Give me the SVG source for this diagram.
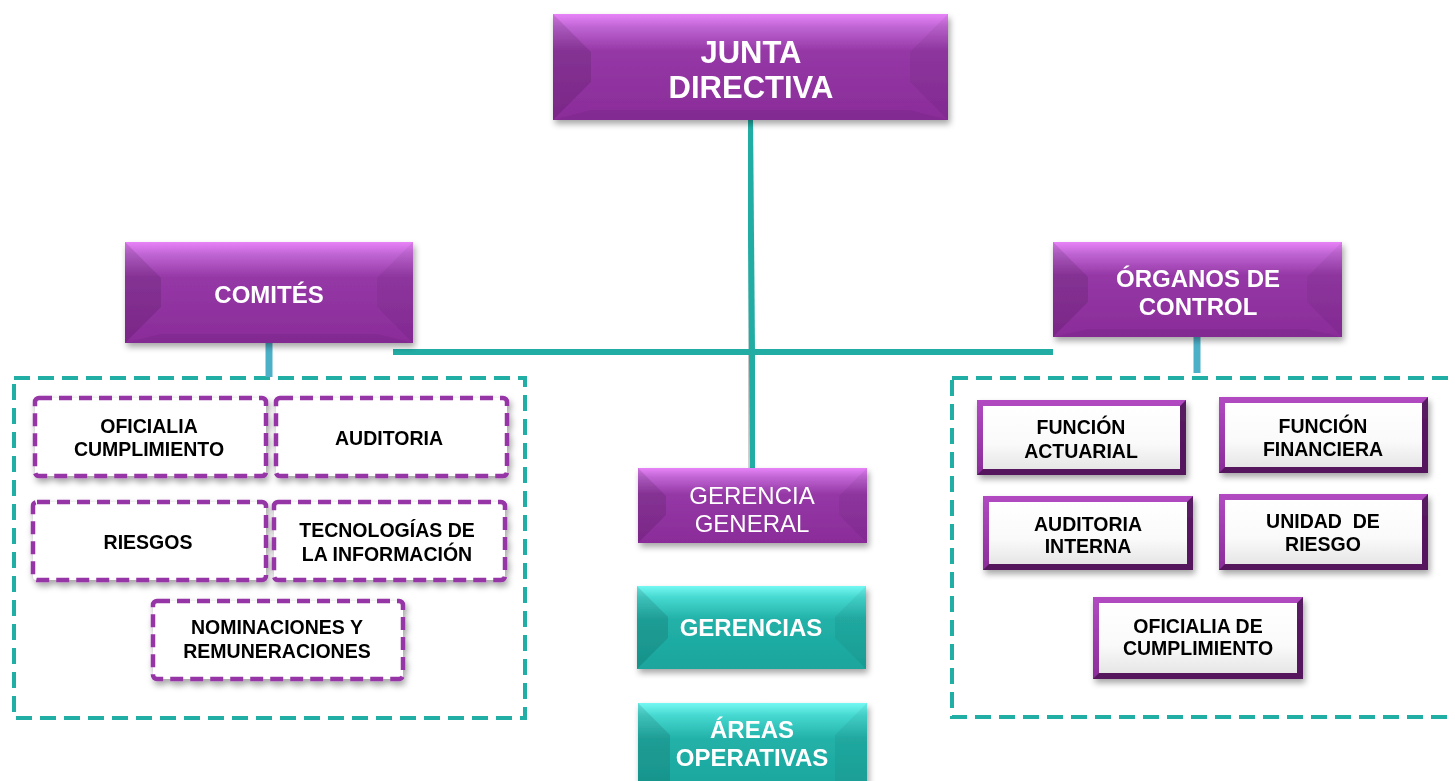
<svg xmlns="http://www.w3.org/2000/svg" width="1455" height="781" viewBox="0 0 1455 781">
<defs>
<linearGradient id="pg" x1="0" y1="0" x2="0" y2="1">
<stop offset="0" stop-color="#E883F8"/>
<stop offset="0.12" stop-color="#C065D4"/>
<stop offset="0.35" stop-color="#9538A6"/>
<stop offset="1" stop-color="#8A2C99"/>
</linearGradient>
<linearGradient id="tg" x1="0" y1="0" x2="0" y2="1">
<stop offset="0" stop-color="#74F8F3"/>
<stop offset="0.14" stop-color="#45D8D0"/>
<stop offset="0.4" stop-color="#22B1A8"/>
<stop offset="1" stop-color="#1AA59C"/>
</linearGradient>
<linearGradient id="wg" x1="0" y1="0" x2="0" y2="1">
<stop offset="0" stop-color="#FFFFFF"/>
<stop offset="0.6" stop-color="#FAFAFA"/>
<stop offset="1" stop-color="#E6E6E6"/>
</linearGradient>
<linearGradient id="fg" x1="0" y1="0" x2="0" y2="1">
<stop offset="0" stop-color="#B24AC2"/>
<stop offset="1" stop-color="#8A2C99"/>
</linearGradient>
<filter id="sh" x="-10%" y="-10%" width="125%" height="135%">
<feDropShadow dx="2" dy="4" stdDeviation="3" flood-color="#000" flood-opacity="0.35"/>
</filter>
<filter id="lsh" x="-50%" y="-5%" width="200%" height="110%">
<feDropShadow dx="-2" dy="2" stdDeviation="2" flood-color="#000" flood-opacity="0.3"/>
</filter>
<style>
.wt{font-family:"Liberation Sans",Arial,sans-serif;fill:#FFFFFF;text-anchor:middle;font-weight:bold}
.wr{font-family:"Liberation Sans",Arial,sans-serif;fill:#FFFFFF;text-anchor:middle;font-weight:normal}
.bt{font-family:"Liberation Sans",Arial,sans-serif;fill:#000000;text-anchor:middle;font-weight:bold;font-size:19.5px}
.dk{fill:#000;opacity:0.11}
.dk2{fill:#000;opacity:0.05}
.pd{fill:#FFFFFF;stroke:#9634A6;stroke-width:4.5;stroke-dasharray:13 7}
.td{fill:none;stroke:#21AFA5;stroke-width:4;stroke-dasharray:16 8}
.edge{fill:#4A1352;opacity:0.85}
.conn{stroke:#22ADA4;stroke-width:6;fill:none}
.stub{stroke:#4CB0C9;stroke-width:7;fill:none}
</style>
</defs>

<g id="containers">
<rect class="td" x="14" y="378" width="511" height="340"/>
<rect class="td" x="952" y="378" width="510" height="339"/>
</g>

<g id="connectors">
<line class="conn" x1="750" y1="120" x2="753" y2="468" filter="url(#lsh)"/>
<line class="conn" x1="393" y1="352" x2="1053" y2="352"/>
<line class="stub" x1="269" y1="343" x2="269" y2="377"/>
<line class="stub" x1="1197" y1="337" x2="1197" y2="373"/>
</g>

<g id="junta" filter="url(#sh)">
<rect x="553" y="14" width="395" height="106" fill="url(#pg)"/>
<polygon class="dk" points="553,14 591,52 591,82 553,120"/>
<polygon class="dk2" points="948,14 910,52 910,82 948,120"/>
<polygon class="dk2" points="553,120 591,110 910,110 948,120"/>
<text class="wt" font-size="31" x="751" y="63">JUNTA</text>
<text class="wt" font-size="31" x="751" y="98">DIRECTIVA</text>
</g>

<g id="comites" filter="url(#sh)">
<rect x="125" y="242" width="288" height="101" fill="url(#pg)"/>
<polygon class="dk" points="125,242 161,278 161,307 125,343"/>
<polygon class="dk2" points="413,242 377,278 377,307 413,343"/>
<polygon class="dk2" points="125,343 161,334 377,334 413,343"/>
<text class="wt" font-size="24" x="269" y="303">COMITÉS</text>
</g>

<g id="organos" filter="url(#sh)">
<rect x="1053" y="242" width="289" height="95" fill="url(#pg)"/>
<polygon class="dk" points="1053,242 1088,277 1088,302 1053,337"/>
<polygon class="dk2" points="1342,242 1307,277 1307,302 1342,337"/>
<polygon class="dk2" points="1053,337 1088,329 1307,329 1342,337"/>
<text class="wt" font-size="24" x="1198" y="287">ÓRGANOS DE</text>
<text class="wt" font-size="24" x="1198" y="315">CONTROL</text>
</g>

<g id="gerencia-general" filter="url(#sh)">
<rect x="638" y="468" width="229" height="75" fill="url(#pg)"/>
<polygon class="dk" points="638,468 666,496 666,515 638,543"/>
<polygon class="dk2" points="867,468 839,496 839,515 867,543"/>
<text class="wr" font-size="24" x="752" y="504">GERENCIA</text>
<text class="wr" font-size="24" x="752" y="532">GENERAL</text>
</g>

<g id="gerencias" filter="url(#sh)">
<rect x="637" y="586" width="229" height="83" fill="url(#tg)"/>
<polygon class="dk" points="637,586 668,617 668,638 637,669"/>
<polygon class="dk2" points="866,586 835,617 835,638 866,669"/>
<text class="wt" font-size="24" x="751" y="636">GERENCIAS</text>
</g>

<g id="areas-operativas" filter="url(#sh)">
<rect x="638" y="703" width="229" height="90" fill="url(#tg)"/>
<polygon class="dk" points="638,703 670,735 670,781 638,781"/>
<polygon class="dk2" points="867,703 835,735 835,781 867,781"/>
<text class="wt" font-size="24" x="752" y="738">ÁREAS</text>
<text class="wt" font-size="24" x="752" y="766">OPERATIVAS</text>
</g>

<g id="oficialia-cumplimiento" filter="url(#sh)">
<rect class="pd" x="35" y="398" width="231" height="78" rx="4"/>
<text class="bt" x="149" y="433">OFICIALIA</text>
<text class="bt" x="149" y="456">CUMPLIMIENTO</text>
</g>
<g id="auditoria" filter="url(#sh)">
<rect class="pd" x="276" y="398" width="231" height="78" rx="4"/>
<text class="bt" x="389" y="445">AUDITORIA</text>
</g>
<g id="riesgos" filter="url(#sh)">
<rect class="pd" x="33" y="502" width="233" height="78" rx="4"/>
<text class="bt" x="148" y="549">RIESGOS</text>
</g>
<g id="tecnologias" filter="url(#sh)">
<rect class="pd" x="274" y="502" width="231" height="78" rx="4"/>
<text class="bt" x="387" y="537">TECNOLOGÍAS DE</text>
<text class="bt" x="387" y="561">LA INFORMACIÓN</text>
</g>
<g id="nominaciones" filter="url(#sh)">
<rect class="pd" x="153" y="601" width="250" height="78" rx="4"/>
<text class="bt" x="277" y="634">NOMINACIONES Y</text>
<text class="bt" x="277" y="658">REMUNERACIONES</text>
</g>

<g id="funcion-actuarial" filter="url(#sh)">
<rect x="977" y="400" width="209" height="75" fill="url(#fg)"/>
<polygon class="edge" points="1186,400 1186,475 977,475 983,469 1180,469 1180,406"/>
<rect x="983" y="406" width="197" height="63" fill="url(#wg)"/>
<text class="bt" x="1081" y="434">FUNCIÓN</text>
<text class="bt" x="1081" y="458">ACTUARIAL</text>
</g>
<g id="funcion-financiera" filter="url(#sh)">
<rect x="1219" y="397" width="209" height="76" fill="url(#fg)"/>
<polygon class="edge" points="1428,397 1428,473 1219,473 1225,467 1422,467 1422,403"/>
<rect x="1225" y="403" width="197" height="64" fill="url(#wg)"/>
<text class="bt" x="1323" y="433">FUNCIÓN</text>
<text class="bt" x="1323" y="456">FINANCIERA</text>
</g>
<g id="auditoria-interna" filter="url(#sh)">
<rect x="983" y="496" width="210" height="74" fill="url(#fg)"/>
<polygon class="edge" points="1193,496 1193,570 983,570 989,564 1187,564 1187,502"/>
<rect x="989" y="502" width="198" height="62" fill="url(#wg)"/>
<text class="bt" x="1088" y="531">AUDITORIA</text>
<text class="bt" x="1088" y="553">INTERNA</text>
</g>
<g id="unidad-riesgo" filter="url(#sh)">
<rect x="1219" y="494" width="209" height="76" fill="url(#fg)"/>
<polygon class="edge" points="1428,494 1428,570 1219,570 1225,564 1422,564 1422,500"/>
<rect x="1225" y="500" width="197" height="64" fill="url(#wg)"/>
<text class="bt" x="1323" y="528" xml:space="preserve">UNIDAD  DE</text>
<text class="bt" x="1323" y="551">RIESGO</text>
</g>
<g id="oficialia-de-cumplimiento" filter="url(#sh)">
<rect x="1093" y="597" width="210" height="82" fill="url(#fg)"/>
<polygon class="edge" points="1303,597 1303,679 1093,679 1099,673 1297,673 1297,603"/>
<rect x="1099" y="603" width="198" height="70" fill="url(#wg)"/>
<text class="bt" x="1198" y="633">OFICIALIA DE</text>
<text class="bt" x="1198" y="655">CUMPLIMIENTO</text>
</g>
</svg>
